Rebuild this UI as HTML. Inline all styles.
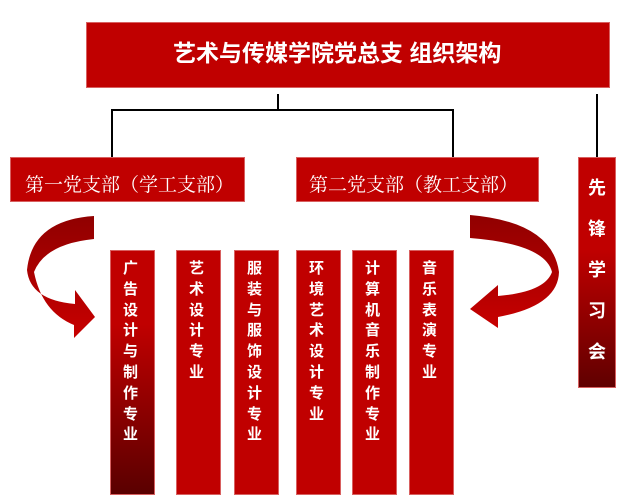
<!DOCTYPE html>
<html><head><meta charset="utf-8"><style>
body{margin:0;width:625px;height:498px;background:#fff;position:relative;overflow:hidden;font-family:"Liberation Serif","Noto Serif CJK SC","Noto Sans CJK SC",serif;}
.b{position:absolute;background:#c00000;color:#fff;box-sizing:border-box;border:1px solid #d86060;}
.col{position:absolute;top:250px;height:245px;width:45px;background:#c00000;border:1px solid #d86060;box-sizing:border-box;color:#fff;font-weight:bold;font-size:15px;line-height:20.8px;padding-top:8px;padding-left:12px;font-family:"Liberation Sans","Noto Sans CJK SC",sans-serif;}
.ln{position:absolute;background:#000;}
</style></head><body>
<div class="b" style="left:86px;top:22px;width:524px;height:66px;font-family:'Liberation Sans','Noto Sans CJK SC',sans-serif;font-weight:bold;font-size:23px;line-height:60px;padding-left:86px;white-space:nowrap;">艺术与传媒学院党总支 组织架构</div>
<div class="ln" style="left:277px;top:94px;width:2px;height:16px"></div>
<div class="ln" style="left:111px;top:109px;width:343px;height:2px"></div>
<div class="ln" style="left:111px;top:109px;width:2px;height:48px"></div>
<div class="ln" style="left:452px;top:109px;width:2px;height:48px"></div>
<div class="ln" style="left:596px;top:94px;width:2px;height:63px"></div>
<div class="b" style="left:10px;top:157px;width:235px;height:45px;font-size:19px;line-height:56px;padding-left:14px;white-space:nowrap;">第一党支部（学工支部）</div>
<div class="b" style="left:296px;top:157px;width:243px;height:45px;font-size:19px;line-height:56px;padding-left:12px;white-space:nowrap;">第二党支部（教工支部）</div>
<div class="b" style="left:578px;top:157px;width:38px;height:231px;font-weight:bold;font-size:18px;line-height:41px;padding:10px 0 0 9px;font-family:'Liberation Sans','Noto Sans CJK SC',sans-serif;background:linear-gradient(#c00000 40%,#600000);">先<br>锋<br>学<br>习<br>会</div>
<svg style="position:absolute;left:0;top:0" width="625" height="498">
<defs><linearGradient id="g" x1="0" y1="0" x2="0" y2="1"><stop offset="0" stop-color="#900000"/><stop offset="1" stop-color="#c80000"/></linearGradient></defs>
<path d="M94 216 L94 239 Q45 244 34 272 Q42 312 74 325 L74 338 L95 317 L75 290 L75 304 Q30 300 27 270 Q32 220 94 216Z" fill="url(#g)"/>
<path d="M470 215 L470 238 Q545 244 552 272 Q545 292 498 296 L498 285 L470 309 L498 328 L498 317 Q558 306 559 272 Q552 222 470 215Z" fill="url(#g)"/>
</svg>
<div class="col" style="left:110px;background:linear-gradient(#c00000 30%,#5a0000)">广<br>告<br>设<br>计<br>与<br>制<br>作<br>专<br>业</div>
<div class="col" style="left:176px">艺<br>术<br>设<br>计<br>专<br>业</div>
<div class="col" style="left:234px">服<br>装<br>与<br>服<br>饰<br>设<br>计<br>专<br>业</div>
<div class="col" style="left:296px">环<br>境<br>艺<br>术<br>设<br>计<br>专<br>业</div>
<div class="col" style="left:352px">计<br>算<br>机<br>音<br>乐<br>制<br>作<br>专<br>业</div>
<div class="col" style="left:409px">音<br>乐<br>表<br>演<br>专<br>业</div>
</body></html>
